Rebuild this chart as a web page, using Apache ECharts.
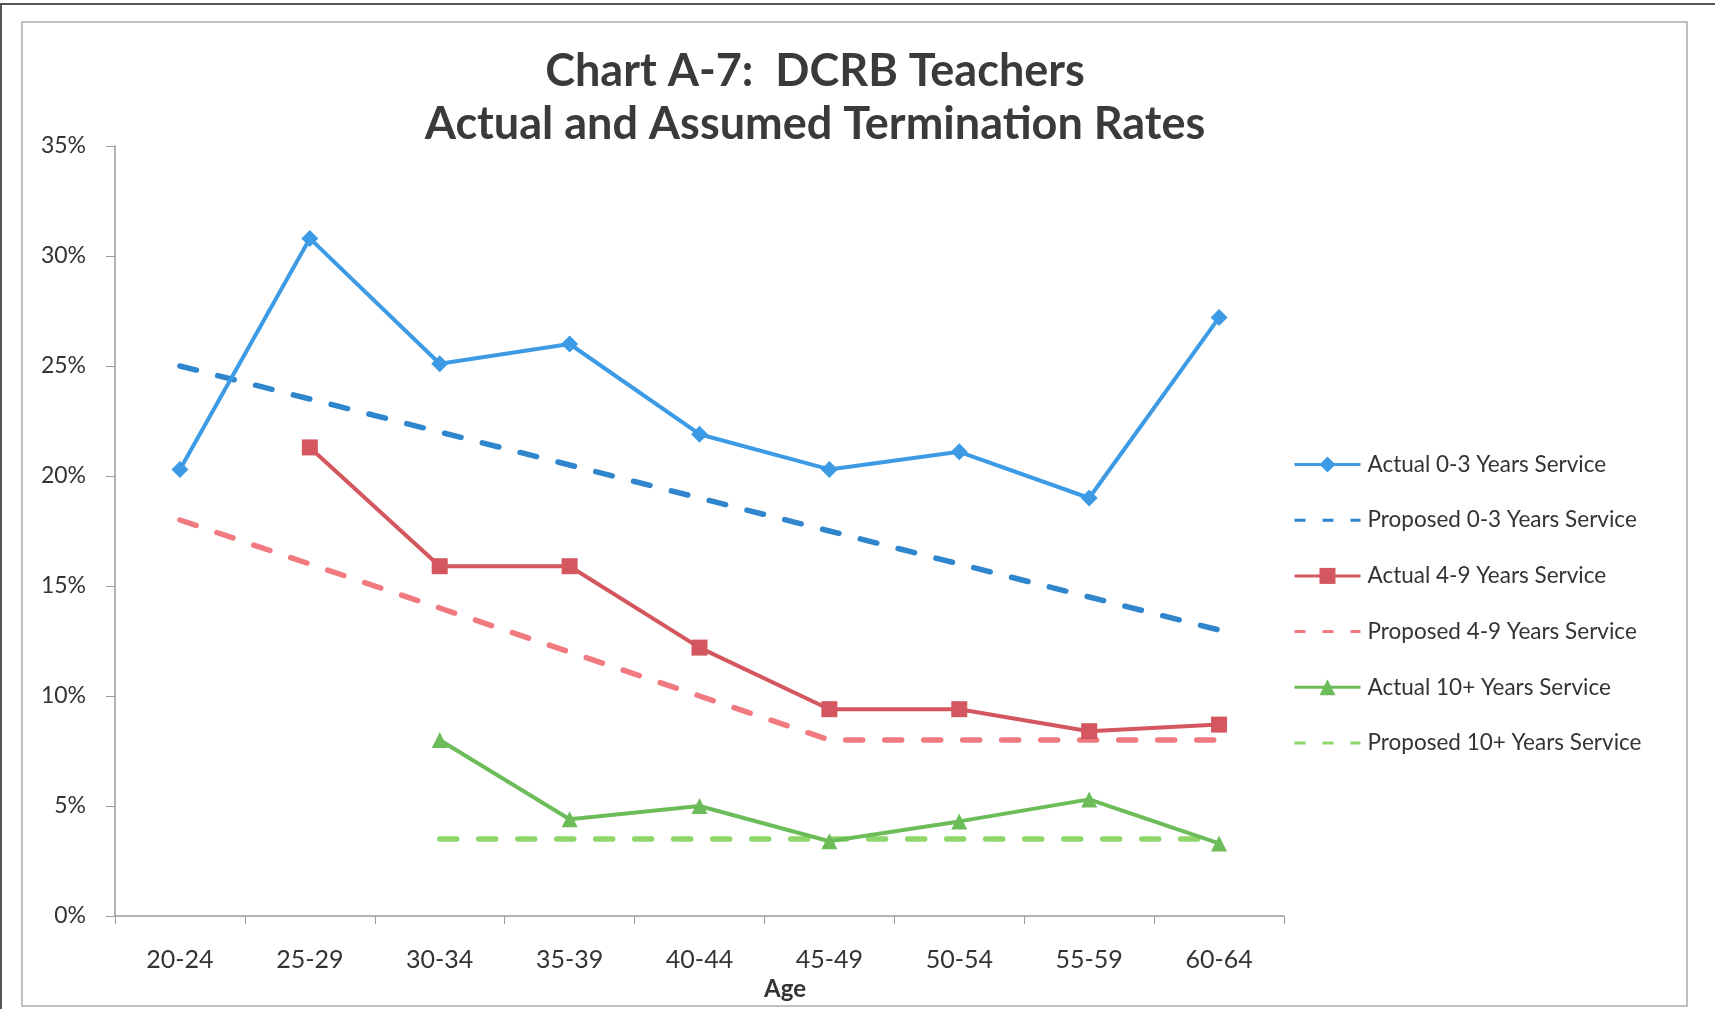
<!DOCTYPE html>
<html>
<head>
<meta charset="utf-8">
<script src="https://cdn.jsdelivr.net/npm/echarts@6/dist/echarts.min.js"></script>
<style>
html,body{margin:0;padding:0;background:#fff;}
#chart{width:1715px;height:1009px;}
</style>
</head>
<body>
<div id="chart"></div>
<script>
const categories = ['20-24','25-29','30-34','35-39','40-44','45-49','50-54','55-59','60-64'];
const actual03   = [20.3, 30.8, 25.1, 26.0, 21.9, 20.3, 21.1, 19.0, 27.2];
const proposed03 = [25.0, 23.5, 22.0, 20.5, 19.0, 17.5, 16.0, 14.5, 13.0];
const actual49   = [null, 21.3, 15.9, 15.9, 12.2, 9.4, 9.4, 8.4, 8.7];
const proposed49 = [18.0, 16.0, 14.0, 12.0, 10.0, 8.0, 8.0, 8.0, 8.0];
const actual10   = [null, null, 8.0, 4.4, 5.0, 3.4, 4.3, 5.3, 3.3];
const proposed10 = [null, null, 3.5, 3.5, 3.5, 3.5, 3.5, 3.5, 3.5];
const seriesNames = ['Actual 0-3 Years Service','Proposed 0-3 Years Service','Actual 4-9 Years Service','Proposed 4-9 Years Service','Actual 10+ Years Service','Proposed 10+ Years Service'];

const FONT = 'Lato, "Open Sans", sans-serif';
const chart = echarts.init(document.getElementById('chart'), null, {renderer:'canvas'});

function actual(name, data, color, symbol, size){
  return {name, type:'line', data, symbol, symbolSize:size, showSymbol:true, connectNulls:false,
    itemStyle:{color}, lineStyle:{color, width:4}, z:3, animation:false};
}
function proposed(name, data, color){
  return {name, type:'line', data, symbol:'none', showSymbol:false,
    itemStyle:{color}, lineStyle:{color, width:5.5, type:[17,22], cap:'round'}, z:2, animation:false};
}

const legendData = seriesNames.map((n, i) => i % 2 === 1
  ? {name:n, itemStyle:{opacity:0}, lineStyle:{width:3, type:[11,17], cap:'butt'}}
  : {name:n, lineStyle:{width:3}});

chart.setOption({
  backgroundColor:'#ffffff',
  animation:false,
  title:{
    text:'Chart A-7:  DCRB Teachers\nActual and Assumed Termination Rates',
    left:810, top:40, textAlign:'center',
    textStyle:{fontFamily:FONT, fontWeight:'bold', fontSize:45, lineHeight:53, color:'#3a3a3a'}
  },
  legend:{
    orient:'vertical', left:1288, top:448,
    itemWidth:66, itemHeight:20, itemGap:32.7,
    data:legendData,
    textStyle:{fontFamily:FONT, fontSize:22.5, color:'#333', padding:[0,0,0,2]}
  },
  grid:{left:115, right:431, top:146, bottom:93, containLabel:false},
  xAxis:{
    type:'category', data:categories, boundaryGap:true,
    axisLine:{lineStyle:{color:'#9a9a9a', width:1.5}},
    axisTick:{show:true, length:8, lineStyle:{color:'#9a9a9a'}},
    axisLabel:{fontFamily:FONT, fontSize:25, color:'#333', margin:31}
  },
  yAxis:{
    type:'value', min:0, max:35, interval:5,
    axisLine:{show:true, lineStyle:{color:'#9a9a9a', width:1.5}},
    axisTick:{show:true, length:9, lineStyle:{color:'#9a9a9a'}},
    splitLine:{show:false},
    axisLabel:{fontFamily:FONT, fontSize:23, color:'#333', margin:29, formatter:'{value}%'}
  },
  graphic:[
    {type:'rect', shape:{x:1, y:4, width:1730, height:1030}, style:{fill:'none', stroke:'#555', lineWidth:2}, silent:true},
    {type:'rect', shape:{x:22, y:22, width:1665, height:984}, style:{fill:'none', stroke:'#aaa', lineWidth:1.5}, silent:true},
    {type:'text', x:785, y:989, style:{text:'Age', fontFamily:FONT, fontWeight:'bold', fontSize:24, fill:'#333', align:'center', verticalAlign:'middle'}}
  ],
  series:[
    actual(seriesNames[0], actual03, '#3d9be5', 'diamond', 17),
    proposed(seriesNames[1], proposed03, '#2f86cc'),
    actual(seriesNames[2], actual49, '#d4575f', 'rect', 16),
    proposed(seriesNames[3], proposed49, '#f07a80'),
    actual(seriesNames[4], actual10, '#6cbd5a', 'triangle', 16),
    proposed(seriesNames[5], proposed10, '#8ed66a')
  ]
});
</script>
</body>
</html>
